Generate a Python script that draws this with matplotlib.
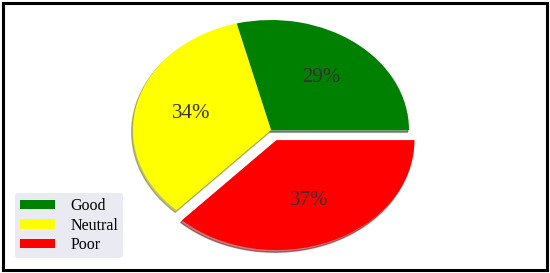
import matplotlib
matplotlib.use("Agg")
import matplotlib.pyplot as plt
from matplotlib.patches import Rectangle

labels = ["Good", "Neutral", "Poor"]
values = [29, 34, 37]
colors = ["#008000", "#ffff00", "#ff0000"]
explode = [0, 0, 0.1]

plt.rcParams['font.family'] = ['Liberation Serif', 'DejaVu Serif']

fig = plt.figure(figsize=(5.5, 2.73), dpi=100)
W, H = 550, 273
cx, cy = 271, 143
sx, sy = 138, 110
xl, yl = 1.5, 1.2
ax = fig.add_axes([(cx - xl*sx)/W, (cy - yl*sy)/H, 2*xl*sx/W, 2*yl*sy/H])
wedges, texts, autotexts = ax.pie(values, labels=None, colors=colors, explode=explode,
                                  autopct='%1.0f%%', startangle=0,
                                  shadow=dict(ox=-0.007, oy=-0.014, shade=0.5),
                                  pctdistance=0.6, radius=1,
                                  textprops=dict(fontsize=15, color='#333333'))
ax.set_aspect('auto')
ax.set_xlim(-xl, xl)
ax.set_ylim(-yl, yl)
ax.axis('off')

leg = fig.legend(wedges, labels, loc='lower left', bbox_to_anchor=(15/W, 15/H),
                 fontsize=11.5, frameon=True, facecolor='#eaeaf2', edgecolor='none',
                 framealpha=1, handlelength=2.2, handleheight=0.56, borderpad=0.3,
                 labelspacing=0.22, handletextpad=0.95, borderaxespad=0)

fig.patches.append(Rectangle((3/W, 3/H), 1 - 6/W, 1 - 6/H, transform=fig.transFigure,
                             fill=False, edgecolor='black', linewidth=2.2))
fig.savefig("out.png", dpi=100)
